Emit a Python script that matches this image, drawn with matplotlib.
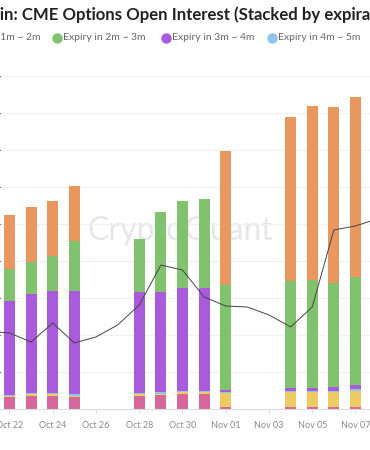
import numpy as np
import pandas as pd
import matplotlib
matplotlib.use("Agg")
import matplotlib.pyplot as plt
import matplotlib.dates as mdates

# --- data (open interest stacks, arbitrary units) ---
bar_dates = ["2024-10-22", "2024-10-23", "2024-10-24", "2024-10-25",
             "2024-10-28", "2024-10-29", "2024-10-30", "2024-10-31",
             "2024-11-01", "2024-11-04", "2024-11-05", "2024-11-06", "2024-11-07"]
oi_pink = [1620, 1760, 1760, 1620, 1760, 1890, 2030, 2030, 270, 270, 270, 270, 270]
oi_yellow = [135, 200, 200, 200, 200, 200, 200, 200, 1890, 2030, 2030, 2030, 2160]
oi_blue = [135, 200, 200, 200, 200, 200, 200, 200, 135, 135, 135, 135, 270]
oi_purple = [12700, 13380, 13780, 13920, 13650, 13510, 13920, 13920, 270, 400, 400, 540, 540]
oi_green = [4320, 4320, 4730, 6760, 7160, 10810, 11760, 12030, 14190, 14460, 14590, 14050, 14590]
oi_orange = [7300, 7430, 7430, 7430, 0, 0, 0, 0, 18110, 22160, 23510, 23780, 24320]

price_dates = pd.date_range("2024-10-21", "2024-11-08", freq="D")
price = [67000, 66850, 66040, 67750, 65950, 66490, 67570, 69370, 72970, 72520,
         70090, 69280, 69190, 68470, 67390, 69190, 76130, 76490, 77120]

tick_dates = pd.date_range("2024-10-22", "2024-11-07", freq="2D")

legend_labels = ["Expiry in 1m ~ 2m", "Expiry in 2m ~ 3m", "Expiry in 3m ~ 4m", "Expiry in 4m ~ 5m"]

c_pink, c_yellow, c_blue = "#d5679a", "#ebcb62", "#8cc6e8"
c_purple, c_green, c_orange = "#a95bdb", "#80c26e", "#e8975f"

W, H = 370, 450
fig = plt.figure(figsize=(W / 100, H / 100), dpi=100)
fig.patch.set_facecolor("white")

# axes: baseline at y=409px, top gridline at y=76px, spans past both edges
ax = fig.add_axes([0, 1 - 409 / H, 1, (409 - 76) / H])
x = mdates.date2num(pd.to_datetime(bar_dates))
px_per_day = 346 / 16
x0 = mdates.date2num(pd.Timestamp("2024-10-22"))
ax.set_xlim(x0 - 9.5 / px_per_day, x0 + (W - 9.5) / px_per_day)
ax.set_ylim(0, 45000)

bottom = np.zeros(len(x))
for vals, col in [(oi_pink, c_pink), (oi_yellow, c_yellow), (oi_blue, c_blue),
                  (oi_purple, c_purple), (oi_green, c_green), (oi_orange, c_orange)]:
    ax.bar(x, vals, width=0.5, bottom=bottom, color=col, linewidth=0, zorder=2)
    bottom += np.array(vals)

ax.set_yticks(np.arange(0, 45001, 5000))
ax.yaxis.grid(True, color="#f0f0f0", linewidth=0.8, zorder=0)
ax.tick_params(axis="y", left=False, labelleft=False)
for s in ["left", "right", "top"]:
    ax.spines[s].set_visible(False)
ax.spines["bottom"].set_color("#dcdcdc")
ax.set_xticks(mdates.date2num(tick_dates))
ax.xaxis.set_major_formatter(mdates.DateFormatter("%b %d"))
ax.tick_params(axis="x", length=3, color="#dcdcdc", labelsize=6.5,
               labelcolor="#8a8a8a", pad=6)
for lbl in ax.get_xticklabels():
    lbl.set_family("Lato")

ax.text(180 / W, 1 - 231 / H, "CryptoQuant", transform=fig.transFigure,
        ha="center", va="center", fontsize=23, family="Lato",
        color="#e6e6eb", zorder=0)

# price line on a hidden secondary axis
ax2 = ax.twinx()
ax2.set_ylim(60000, 90000)
ax2.plot(mdates.date2num(price_dates), price, color="#444444", linewidth=0.7, zorder=3)
ax2.axis("off")

# title, clipped at the left edge like the reference crop
r = fig.canvas.get_renderer()
title_kw = dict(fontsize=12.1, fontweight="bold", family="Lato", color="#222222", va="center")
tmp = fig.text(0, 0, "Bitco", **title_kw)
w = tmp.get_window_extent(r).width
tmp.remove()
fig.text(-w / W, 1 - 15 / H, "Bitcoin: CME Options Open Interest (Stacked by expiration)", **title_kw)

# legend row
leg_kw = dict(fontsize=7.5, family="Lato", color="#666666", va="center")
tmp = fig.text(0, 0, "Expiry in ", **leg_kw)
w = tmp.get_window_extent(r).width
tmp.remove()
leg_y = 1 - 38 / H
fig.text(-w / W, leg_y, legend_labels[0], **leg_kw)
for lab, col, mx in zip(legend_labels[1:], [c_green, c_purple, c_blue], [57, 166, 272]):
    fig.add_artist(plt.Line2D([mx / W], [leg_y], marker="o", markersize=6.5,
                              color=col, linestyle="none", transform=fig.transFigure))
    fig.text((mx + 6) / W, leg_y, lab, **leg_kw)

fig.savefig("out.png", dpi=100)
